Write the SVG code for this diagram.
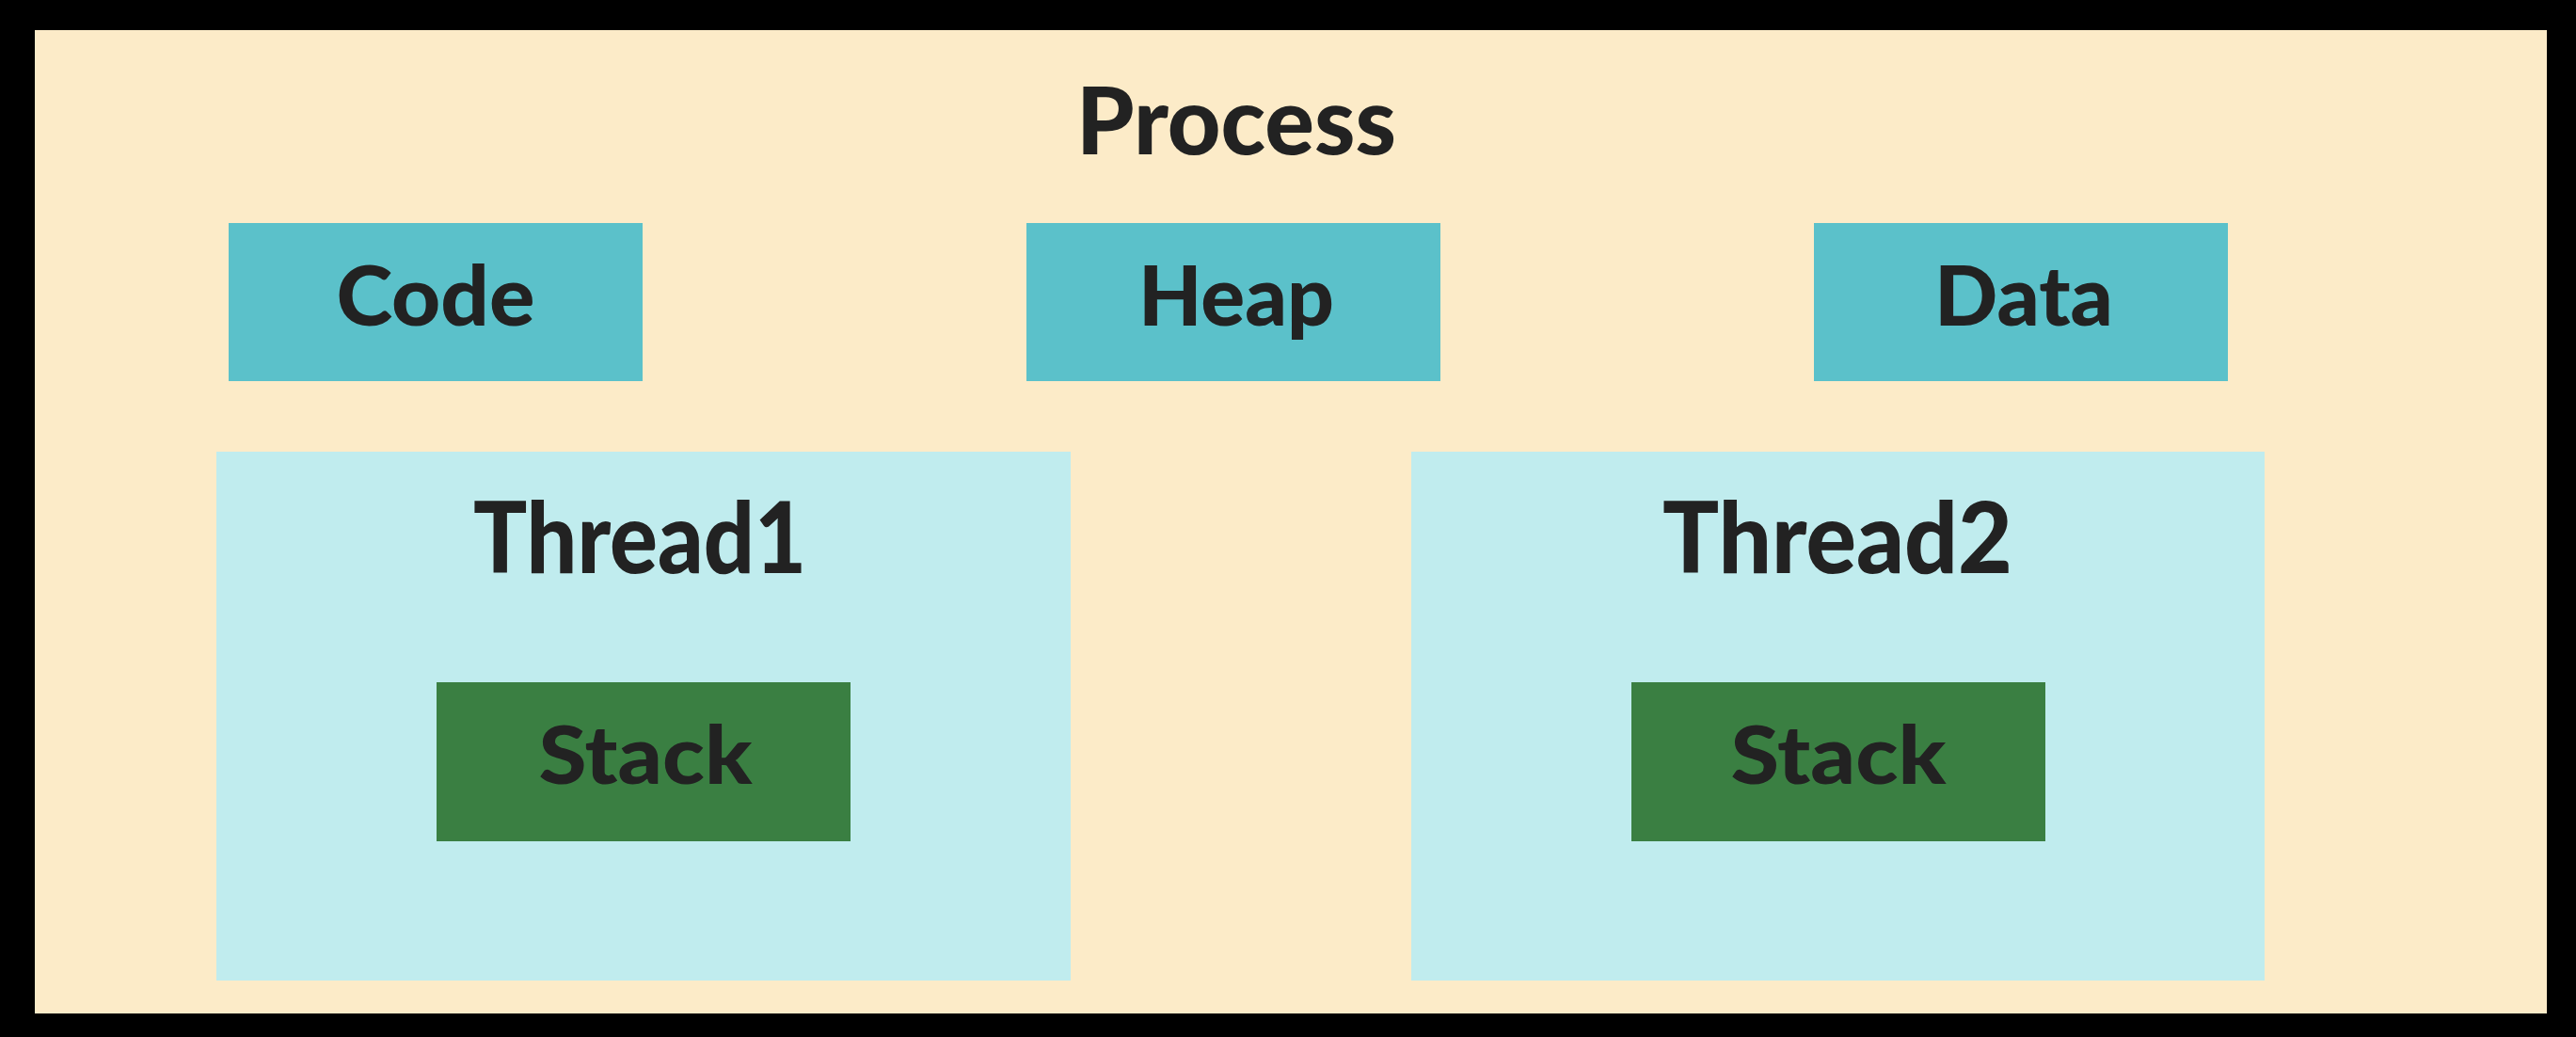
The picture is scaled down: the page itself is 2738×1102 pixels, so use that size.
<svg xmlns="http://www.w3.org/2000/svg" width="2738" height="1102" viewBox="0 0 2738 1102">
<style>
text{font-family:Lato,"Liberation Sans",sans-serif;font-weight:900;fill:#222222;text-anchor:middle}
.seg{fill:#5BC1CA}
.thr{fill:#C0ECEE}
.stk{fill:#3A7F42}
</style>
<rect x="0" y="0" width="2738" height="1102" fill="#000000"/>
<g id="process">
<rect x="37" y="32" width="2670" height="1045" fill="#FCEBC8"/>
<text x="1314" y="164" font-size="100" textLength="340" lengthAdjust="spacingAndGlyphs">Process</text>
</g>
<g id="code">
<rect class="seg" x="243" y="237" width="440" height="168"/>
<text x="463" y="346" font-size="87" textLength="211" lengthAdjust="spacingAndGlyphs">Code</text>
</g>
<g id="heap">
<rect class="seg" x="1091" y="237" width="440" height="168"/>
<text x="1314" y="346" font-size="87" textLength="208" lengthAdjust="spacingAndGlyphs">Heap</text>
</g>
<g id="data">
<rect class="seg" x="1928" y="237" width="440" height="168"/>
<text x="2151" y="346" font-size="87" textLength="190" lengthAdjust="spacingAndGlyphs">Data</text>
</g>
<g id="thread1">
<rect class="thr" x="230" y="480" width="908" height="562"/>
<text x="680" y="609" font-size="105" textLength="354" lengthAdjust="spacingAndGlyphs">Thread1</text>
</g>
<g id="stack1">
<rect class="stk" x="464" y="725" width="440" height="169"/>
<text x="686" y="833" font-size="86" textLength="227" lengthAdjust="spacingAndGlyphs">Stack</text>
</g>
<g id="thread2">
<rect class="thr" x="1500" y="480" width="907" height="562"/>
<text x="1953" y="609" font-size="105" textLength="372" lengthAdjust="spacingAndGlyphs">Thread2</text>
</g>
<g id="stack2">
<rect class="stk" x="1734" y="725" width="440" height="169"/>
<text x="1954" y="833" font-size="86" textLength="229" lengthAdjust="spacingAndGlyphs">Stack</text>
</g>
<g id="connectors"></g>
</svg>
